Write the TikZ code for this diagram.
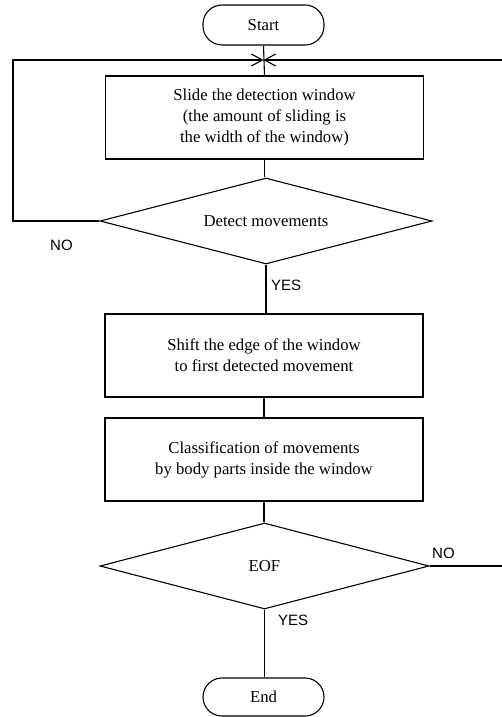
\documentclass[tikz,border=0pt]{standalone}
\usepackage{fontspec}
\setmainfont{Liberation Serif}
\newfontfamily\lblfont{Liberation Sans}
\usetikzlibrary{shapes.geometric,arrows.meta}
\tikzset{
  base/.style={draw=black, line width=1.1pt, inner sep=0pt, align=center, font=\fontsize{16.7}{21}\selectfont},
  term/.style={base, rounded corners=19pt, minimum width=121pt},
  proc/.style={base, minimum width=318pt, minimum height=83pt},
  decis/.style={base, diamond, aspect=3.85, minimum height=86pt},
  conn/.style={line width=1.1pt},
  back/.style={conn, -{Straight Barb[length=11pt,width=12pt,line width=1.1pt]}},
  lbl/.style={font=\lblfont\fontsize{15}{16}\selectfont, inner sep=0pt}
}
\begin{document}
\begin{tikzpicture}[x=1pt,y=-1pt]
\useasboundingbox[fill=white] (0,0) rectangle (502,717);
\node[term, minimum height=40pt] (start) at (263.5,25) {Start};
\node[proc] (slide) at (264.5,117.5) {Slide the detection window\\(the amount of sliding is\\the width of the window)};
\node[decis, minimum width=332pt] (detect) at (266,221) {Detect movements};
\node[proc] (shift) at (264,355.5) {Shift the edge of the window\\ to first detected movement};
\node[proc] (classify) at (264,459.5) {Classification of movements\\by body parts inside the window};
\node[decis, minimum width=329pt] (eof) at (264.5,566) {EOF};
\node[term, minimum height=38pt] (end) at (263.5,697) {End};
\coordinate (merge) at (start.south |- 0,60);
\coordinate (ll) at (13,221);
\coordinate (lt) at (13,60);
\coordinate (rr) at (506,566);
\coordinate (rt) at (506,60);
\draw[conn] (start.south) -- (slide.north);
\draw[conn] (slide.south) -- (slide.south |- detect.north);
\draw[conn] (detect.south) -- (detect.south |- shift.north);
\draw[conn] (shift.south) -- (classify.north);
\draw[conn] (classify.south) -- (classify.south |- eof.north);
\draw[conn] (eof.south) -- (eof.south |- end.north);
\draw[back] (detect.west) -- (ll) -- (lt) -- (merge);
\draw[back] (eof.east) -- (rr) -- (rt) -- (merge);
\node[lbl, anchor=west] at (50,245) {NO};
\node[lbl, anchor=west] at (271,285) {YES};
\node[lbl, anchor=west] at (432,553) {NO};
\node[lbl, anchor=west] at (278,620) {YES};
\end{tikzpicture}
\end{document}
